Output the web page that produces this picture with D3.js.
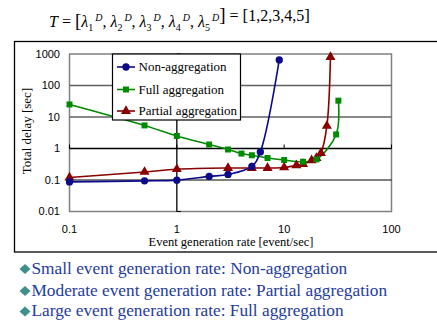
<!DOCTYPE html>
<html><head><meta charset="utf-8">
<script src="https://cdn.jsdelivr.net/npm/d3@7"></script>
<style>body{margin:0;background:#fff}svg{display:block}
.serif{font-family:"Liberation Serif","Times New Roman",Tinos,"DejaVu Serif","Noto Serif",Times,serif}
.sans{font-family:"Liberation Sans",Arial,Arimo,Helvetica,sans-serif}
</style>
</head><body>
<svg id="c" width="437" height="320"></svg>
<script>
const seriesNames = ["Non-aggregation","Full aggregation","Partial aggregation"];
const nonAggX = [0.1,0.5,1,2,3,5,6,9];
const nonAggY = [0.087,0.094,0.099,0.13,0.15,0.27,0.78,650];
const fullAggX = [0.1,0.5,1,2,3,4,5,7,10,15,20,30.5,32];
const fullAggY = [25,5.4,2.5,1.34,0.93,0.69,0.61,0.50,0.43,0.38,0.45,2.8,33];
const partAggX = [0.1,0.5,1,3,5,7,10,13,15,18,20,22,25,27];
const partAggY = [0.12,0.18,0.22,0.24,0.24,0.24,0.25,0.29,0.32,0.42,0.5,0.72,5.2,800];
const xTicks = [0.1,1,10,100];
const yTicks = [0.01,0.1,1,10,100,1000];
const tickLabel = {0.01:"0.01",0.1:"0.1",1:"1",10:"10",100:"100",1000:"1000"};
const bullets = ["Small event generation rate: Non-aggregation","Moderate event generation rate: Partial aggregation","Large event generation rate: Full aggregation"];
const colors = ["#0a0a8a","#008a00","#8a0000"];

const svg = d3.select("#c");
const L=69.5,R=391.5,T=54,B=211.5;
const x = d3.scaleLog().domain([0.1,100]).range([L,R]);
const y = d3.scaleLog().domain([0.01,1000]).range([B,T]);

// formula title
const ft = svg.append("text").attr("class","serif").attr("x",49).attr("y",27).attr("font-size",16).attr("fill","#000");
ft.append("tspan").attr("font-style","italic").text("T");
ft.append("tspan").text(" = ");
ft.append("tspan").attr("font-size",19).text("[");
for(let i=1;i<=5;i++){
  ft.append("tspan").attr("font-style","italic").text("λ");
  ft.append("tspan").attr("font-size",10).attr("dy",4).text(i);
  ft.append("tspan").attr("font-size",10).attr("font-style","italic").attr("dy",-10).attr("dx",2).text("D");
  ft.append("tspan").attr("dy",6).text(i<5?", ":"");
}
ft.append("tspan").attr("font-size",19).text("]");
ft.append("tspan").text(" = ");
ft.append("tspan").attr("font-size",17).text("[");
ft.append("tspan").text("1,2,3,4,5");
ft.append("tspan").attr("font-size",17).text("]");

// outer frame
svg.append("rect").attr("x",14.5).attr("y",41.5).attr("width",440).attr("height",210.5).attr("fill","none").attr("stroke","#000").attr("stroke-width",1.3);

// plot area
svg.append("rect").attr("x",L).attr("y",T).attr("width",R-L).attr("height",B-T).attr("fill","#fff").attr("stroke","#808080").attr("stroke-width",1.5);
[10,100].forEach(v=>svg.append("line").attr("x1",L).attr("x2",R).attr("y1",y(v)).attr("y2",y(v)).attr("stroke","#606060").attr("stroke-width",1.3));
svg.append("line").attr("x1",L).attr("x2",R).attr("y1",y(0.1)).attr("y2",y(0.1)).attr("stroke","#000").attr("stroke-width",1.2);
svg.append("line").attr("x1",L).attr("x2",R).attr("y1",y(1)).attr("y2",y(1)).attr("stroke","#000").attr("stroke-width",1.3);
svg.append("line").attr("x1",x(1)).attr("x2",x(1)).attr("y1",T).attr("y2",B).attr("stroke","#000").attr("stroke-width",1.3);
xTicks.forEach(v=>svg.append("line").attr("x1",x(v)).attr("x2",x(v)).attr("y1",y(1)).attr("y2",y(1)-4).attr("stroke","#000"));
yTicks.forEach(v=>svg.append("line").attr("x1",x(1)).attr("x2",x(1)+4).attr("y1",y(v)).attr("y2",y(v)).attr("stroke","#000"));

// tick labels
svg.selectAll(".yl").data(yTicks).join("text").attr("class","sans").attr("x",60).attr("y",d=>y(d)).attr("dy","0.35em").attr("text-anchor","end")
  .attr("font-size",11).text(d=>tickLabel[d]);
svg.selectAll(".xl").data(xTicks).join("text").attr("class","sans").attr("x",d=>x(d)).attr("y",229).attr("dy","0.35em").attr("text-anchor","middle")
  .attr("font-size",11).text(d=>tickLabel[d]);

// axis titles
svg.append("text").attr("class","serif").attr("x",231).attr("y",246).attr("text-anchor","middle").attr("font-size",12.5).text("Event generation rate [event/sec]");
svg.append("text").attr("class","serif").attr("transform","translate(31,131) rotate(-90)").attr("text-anchor","middle").attr("font-size",13).text("Total delay [sec]");

// series
const data = [
  nonAggX.map((d,i)=>[d,nonAggY[i]]),
  fullAggX.map((d,i)=>[d,fullAggY[i]]),
  partAggX.map((d,i)=>[d,partAggY[i]])
];
const line = d3.line().x(d=>x(d[0])).y(d=>y(d[1])).curve(d3.curveCatmullRom.alpha(0.5));
const sym = [d3.symbolCircle,d3.symbolSquare,d3.symbolTriangle];
const sz = [42,36,44];
const g = svg.append("g");
[2,1,0].forEach(k=>{
  g.append("path").attr("d",line(data[k])).attr("fill","none").attr("stroke",colors[k]).attr("stroke-width",1.6);
});
[2,1,0].forEach(k=>{
  g.selectAll(".m"+k).data(data[k]).join("path").attr("transform",d=>`translate(${x(d[0])},${y(d[1])})`)
    .attr("d",d3.symbol(sym[k],sz[k])).attr("fill",colors[k]);
});

// legend
const lg = svg.append("g");
lg.append("rect").attr("x",112.5).attr("y",T).attr("width",128).attr("height",66).attr("fill","#fff").attr("stroke","#000").attr("stroke-width",1.2);
[67,89.5,111].forEach((yy,k)=>{
  lg.append("line").attr("x1",117).attr("x2",135).attr("y1",yy).attr("y2",yy).attr("stroke",colors[k]).attr("stroke-width",1.6);
  lg.append("path").attr("transform",`translate(126,${yy})`).attr("d",d3.symbol(sym[k],sz[k])).attr("fill",colors[k]);
  lg.append("text").attr("class","serif").attr("x",138.5).attr("y",yy).attr("dy","0.33em").attr("font-size",13).text(seriesNames[k]);
});

// bullets
[268,290,310.5].forEach((yy,i)=>{
  svg.append("path").attr("d",`M19.5,${yy+1}L25,${yy-4}L30.5,${yy+1}L25,${yy+6}Z`).attr("fill","#3f8f8c");
  svg.append("text").attr("class","serif").attr("x",31.5).attr("y",yy).attr("dy","0.33em").attr("font-size",17.3).attr("fill","#1f3c9e").text(bullets[i]);
});
</script>
</body></html>
